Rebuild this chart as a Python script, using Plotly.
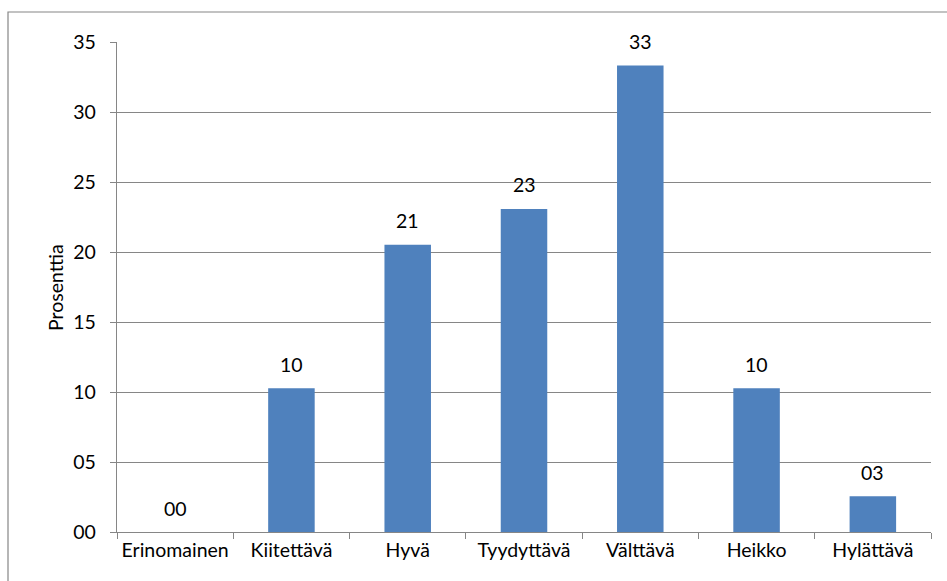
import plotly.graph_objects as go

# Grade distribution (percent of students)
categories = ["Erinomainen", "Kiitettävä", "Hyvä", "Tyydyttävä", "Välttävä", "Heikko", "Hylättävä"]
percent = [0.0, 10.26, 20.51, 23.08, 33.33, 10.26, 2.56]
y_ticks = [0, 5, 10, 15, 20, 25, 30, 35]

BAR = "#4F81BD"
GRID = "#868686"
FONT = "Lato, 'Noto Sans', sans-serif"
FS = 19.5

W, H = 947, 581
L, R, T, B = 117, 16, 42, 49
pw, ph = W - L - R, H - T - B

fig = go.Figure(
    go.Bar(
        x=categories,
        y=percent,
        marker=dict(color=BAR, line=dict(width=0)),
        width=0.4,
        hoverinfo="x+y",
    )
)

# value labels above each bar, formatted as two digits
for c, v in zip(categories, percent):
    fig.add_annotation(
        x=c, y=v, text=f"{v:02.0f}", showarrow=False,
        yshift=24, font=dict(size=FS, color="#000000", family=FONT),
    )

# y-axis title
fig.add_annotation(
    xref="paper", yref="paper", x=(55 - L) / pw, y=0.5,
    xanchor="center", yanchor="middle",
    text="Prosenttia", textangle=-90, showarrow=False,
    font=dict(size=FS, color="#000000", family=FONT),
)

# chart frame
fig.add_shape(
    type="rect", xref="paper", yref="paper",
    x0=(8 - L) / pw, x1=1.2, y0=-0.3, y1=(H - B - 12) / ph,
    line=dict(color=GRID, width=1.2), fillcolor="rgba(0,0,0,0)", layer="below",
)

fig.update_layout(
    width=W, height=H,
    margin=dict(l=L, r=R, t=T, b=B, pad=0, autoexpand=False),
    paper_bgcolor="white", plot_bgcolor="white",
    showlegend=False,
    font=dict(family=FONT, size=FS, color="#000000"),
    xaxis=dict(
        showline=True, linecolor=GRID, linewidth=1.3,
        ticks="outside", tickson="boundaries", ticklen=6, tickcolor=GRID, tickwidth=1.3,
        showgrid=False, tickfont=dict(size=FS), tickangle=0, automargin=False,
    ),
    yaxis=dict(
        range=[0, 35], tickvals=y_ticks, ticktext=[f"{t:02d}" for t in y_ticks],
        showline=True, linecolor=GRID, linewidth=1.3,
        ticks="outside", ticklen=6, tickcolor=GRID, tickwidth=1.3,
        showgrid=True, gridcolor=GRID, gridwidth=1.3,
        zeroline=False, tickfont=dict(size=FS), ticklabelstandoff=10, automargin=False,
    ),
    bargap=0.6,
)

fig.write_html("out.html")
